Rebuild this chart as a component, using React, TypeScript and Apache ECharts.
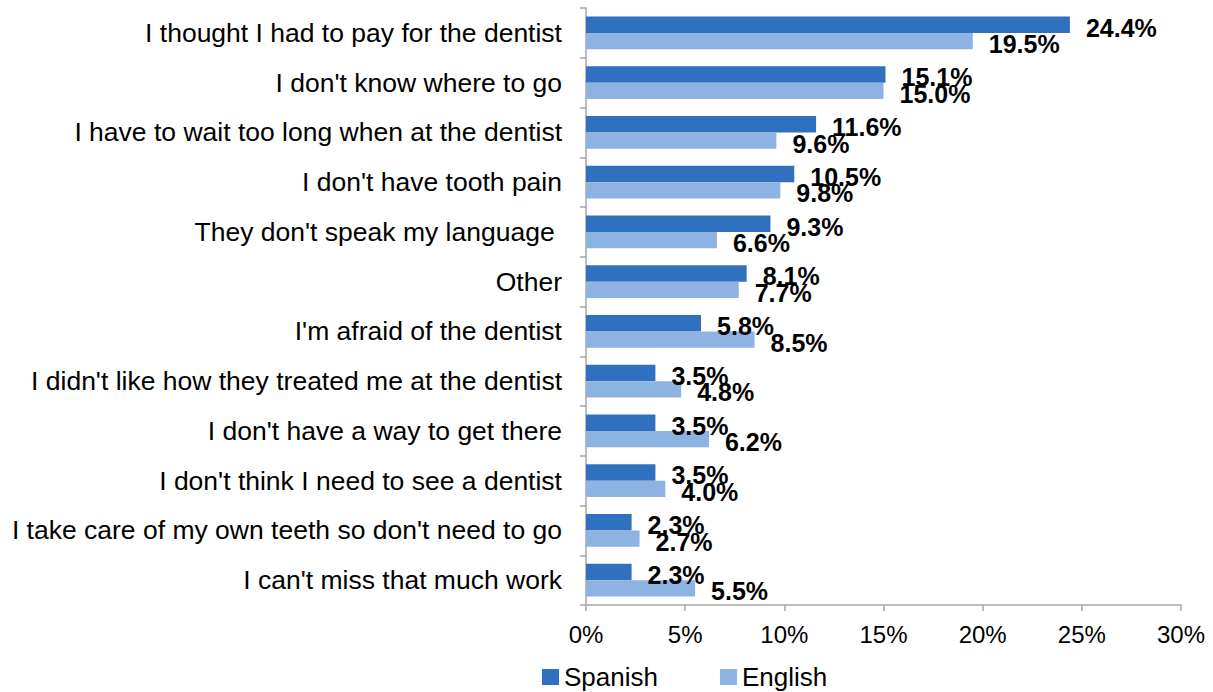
import React, { useEffect, useRef } from "react";
import * as echarts from "echarts";

const categories = [
  "I thought I had to pay for the dentist",
  "I don't know where to go",
  "I have to wait too long when at the dentist",
  "I don't have tooth pain",
  "They don't speak my language ",
  "Other",
  "I'm afraid of the dentist",
  "I didn't like how they treated me at the dentist",
  "I don't have a way to get there",
  "I don't think I need to see a dentist",
  "I take care of my own teeth so don't need to go",
  "I can't miss that much work",
];
const spanish = [24.4, 15.1, 11.6, 10.5, 9.3, 8.1, 5.8, 3.5, 3.5, 3.5, 2.3, 2.3];
const english = [19.5, 15.0, 9.6, 9.8, 6.6, 7.7, 8.5, 4.8, 6.2, 4.0, 2.7, 5.5];
const seriesNames = ["Spanish", "English"];

const FONT = "'Liberation Sans', Arial, sans-serif";

export default function App() {
  const ref = useRef<HTMLDivElement>(null);
  useEffect(() => {
    if (!ref.current) return;
    const chart = echarts.init(ref.current, null, { renderer: "svg" });
    const labelCfg = {
      show: true,
      position: "right",
      distance: 16,
      offset: [0, 3],
      formatter: (p: any) => p.value.toFixed(1) + "%",
      color: "#000",
      fontFamily: FONT,
      fontWeight: "bold",
      fontSize: 25,
    };
    chart.setOption({
      animation: false,
      backgroundColor: "#fff",
      textStyle: { fontFamily: FONT },
      grid: { left: 586, right: 32, top: 8, bottom: 87, containLabel: false },
      legend: {
        data: seriesNames,
        top: 659,
        left: 537,
        itemWidth: 17,
        itemHeight: 16,
        itemGap: 62,
        icon: "rect",
        textStyle: { fontFamily: FONT, fontSize: 26, color: "#000" },
      },
      xAxis: {
        type: "value",
        min: 0,
        max: 30,
        interval: 5,
        axisLine: { show: true, lineStyle: { color: "#A6A6A6", width: 1.5 } },
        axisTick: { show: true, length: 6, lineStyle: { color: "#A6A6A6", width: 1.5 } },
        splitLine: { show: false },
        axisLabel: {
          formatter: (v: number) => v + "%",
          fontFamily: FONT,
          fontSize: 24,
          color: "#000",
          margin: 17,
        },
      },
      yAxis: {
        type: "category",
        data: categories,
        inverse: true,
        axisLine: { show: true, lineStyle: { color: "#A6A6A6", width: 1.5 } },
        axisTick: { show: true, length: 6, alignWithLabel: false, lineStyle: { color: "#A6A6A6", width: 1.5 } },
        axisLabel: {
          fontFamily: FONT,
          fontSize: 26.5,
          color: "#000",
          margin: 24,
        },
      },
      series: [
        {
          name: seriesNames[0],
          type: "bar",
          data: spanish,
          barCategoryGap: "34%",
          barGap: "0%",
          itemStyle: { color: "#3071BF" },
          label: labelCfg,
        },
        {
          name: seriesNames[1],
          type: "bar",
          data: english,
          barCategoryGap: "34%",
          barGap: "0%",
          itemStyle: { color: "#8DB3E2" },
          label: labelCfg,
        },
      ],
    });
    return () => chart.dispose();
  }, []);
  return (
    <div
      ref={ref}
      style={{ position: "fixed", left: 0, top: 0, width: 1213, height: 692 }}
    />
  );
}
